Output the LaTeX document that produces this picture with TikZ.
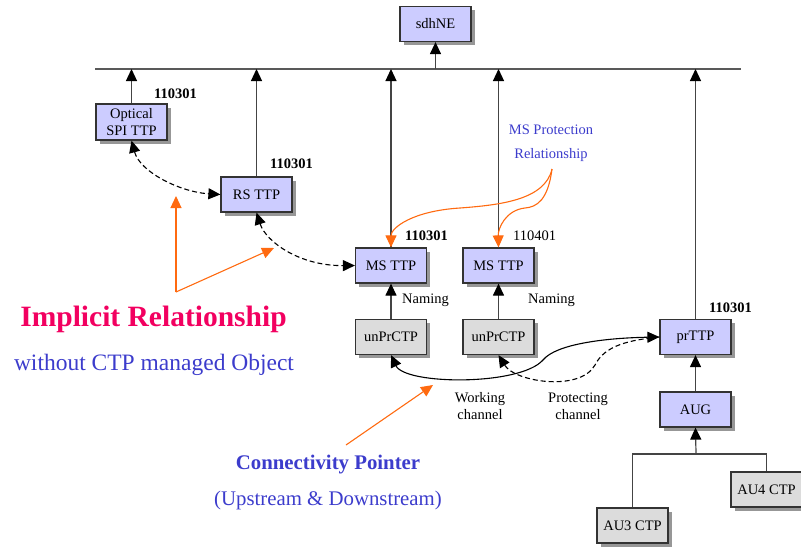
\documentclass[tikz,border=0pt]{standalone}
\usepackage{fontspec}
\setmainfont{Liberation Serif}
\usetikzlibrary{arrows.meta,shadows,calc}
\definecolor{boxfill}{HTML}{CCCCFF}
\definecolor{ctpfill}{HTML}{DCDCDC}
\definecolor{edge}{HTML}{333333}
\definecolor{linegray}{HTML}{444444}
\definecolor{note}{HTML}{3C3CCC}
\definecolor{hot}{HTML}{F20060}
\definecolor{pointer}{HTML}{FF6A10}
\tikzset{
  box/.style={draw=edge, line width=1.2pt, fill=boxfill, minimum width=71pt, minimum height=35pt,
    inner sep=1pt, align=center, font=\fontsize{14.5}{17}\selectfont,
    drop shadow={shadow xshift=3.5pt, shadow yshift=-3.5pt, fill=black!45, opacity=0.9}},
  ctp/.style={box, fill=ctpfill},
  tip/.style={-{Triangle[length=12pt,width=11pt,color=black]}},
  tips/.style={{Triangle[length=12pt,width=11pt,color=black]}-{Triangle[length=12pt,width=11pt,color=black]}},
  arr/.style={tip, draw=linegray, line width=1.2pt},
  link/.style={draw=black, line width=1.1pt},
  dlink/.style={link, dash pattern=on 5pt off 3pt},
  otip/.style={-{Triangle[length=12pt,width=11pt,color=pointer]}},
  orange/.style={draw=pointer, line width=1.1pt, otip},
  idtxt/.style={font=\bfseries\fontsize{14.5}{17}\selectfont, inner sep=0pt},
  lbl/.style={font=\fontsize{14.5}{17}\selectfont, inner sep=0pt, align=center},
}
\begin{document}
\begin{tikzpicture}[x=1pt,y=-1pt]
\useasboundingbox (0,0) rectangle (801,547);

% managed objects
\node[box] (sdh) at (435.5,24) {sdhNE};
\node[box, minimum height=36pt] (opt) at (131.5,122) {Optical\\SPI TTP};
\node[box] (rs) at (256.5,194.5) {RS TTP};
\node[box] (ms1) at (391,265.5) {MS TTP};
\node[box] (ms2) at (498.5,265.5) {MS TTP};
\node[ctp] (u1) at (391,337) {unPrCTP};
\node[ctp] (u2) at (498.5,337) {unPrCTP};
\node[box] (pr) at (695.5,337) {prTTP};
\node[box] (aug) at (695.5,409.5) {AUG};
\node[ctp] (au4) at (766.5,489.5) {AU4 CTP};
\node[ctp] (au3) at (632.5,525.5) {AU3 CTP};

% containment bus under sdhNE
\coordinate (busL) at (95,69);
\coordinate (busR) at (741,69);
\draw[draw=black!65, line width=2pt] (busL) -- (busR);
\draw[arr] (sdh.south |- busL) -- (sdh.south);
\foreach \n in {opt,rs,ms1,ms2,pr}
  \draw[arr] (\n.north) -- (\n.north |- busL);

% object identifiers
\node[idtxt, anchor=west] (id1) at (154,94) {110301};
\node[idtxt, anchor=west] (id2) at (270,164) {110301};
\node[idtxt, anchor=west] (id3) at (405,236) {110301};
\node[lbl, anchor=west] (id4) at (513,236) {110401};
\node[idtxt, anchor=west] (id5) at (709,308) {110301};

% naming
\draw[arr] (u1.north) -- (ms1.south);
\draw[arr] (u2.north) -- (ms2.south);
\node[lbl, anchor=west] (nm1) at (402,300) {Naming};
\node[lbl, anchor=west] (nm2) at (528,300) {Naming};

% AUG tree
\coordinate (br) at (696,454);
\draw[arr] (aug.north) -- (pr.south);
\draw[arr] (br) -- (aug.south);
\draw[draw=linegray, line width=1.2pt] (au3.north) -- (au3.north |- br) -- (au4.north |- br) -- (au4.north);

% implicit relationships
\draw[dlink, tips] (opt.south) .. controls (140,172) and (180,192) .. (rs.west);
\draw[dlink, tips] (rs.south) .. controls (266,242) and (300,266) .. (ms1.west);

% connectivity pointers
\draw[link, tips] (u1.south) .. controls (405,385) and (520,386) .. (543,360)
   .. controls (556,344) and (605,338) .. (pr.west);
\draw[dlink, tip] (pr.west) .. controls (630,340) and (605,345) .. (595,365)
   .. controls (580,392) and (515,382) .. (u2.south);
\node[lbl] (wk) at (480,406) {Working\\channel};
\node[lbl] (pt) at (578,406) {Protecting\\channel};

% MS protection relationship
\node[lbl, text=note] (msp) at (551,130) {MS Protection};
\node[lbl, text=note] (msr) at (551,155) {Relationship};
\coordinate (mpo) at (552,169);
\draw[orange] (mpo) .. controls (545,200) and (500,205) .. (460,208)
   .. controls (412,211) and (391,228) .. (ms1.north);
\draw[orange] (mpo) .. controls (548,200) and (537,207) .. (525,208)
   .. controls (506,210) and (498,228) .. (ms2.north);

% callouts
\coordinate (ic) at (176,292);
\coordinate (ia) at (176,196);
\coordinate (ib) at (274,248);
\draw[orange] (ic) -- (ia);
\draw[orange] (ic) -- (ib);
\node[font=\bfseries\fontsize{29.5}{32}\selectfont, text=hot, inner sep=0pt] (imp) at (153.5,319) {Implicit Relationship};
\node[font=\fontsize{23.5}{26}\selectfont, text=note, inner sep=0pt] (wo) at (154,365) {without CTP managed Object};

\coordinate (cp0) at (346,445);
\coordinate (cp1) at (433,385);
\draw[orange] (cp0) -- (cp1);
\node[font=\bfseries\fontsize{20.8}{23}\selectfont, text=note, inner sep=0pt] (cp) at (328,465) {Connectivity Pointer};
\node[font=\fontsize{20.8}{23}\selectfont, text=note, inner sep=0pt] (ud) at (328,500) {(Upstream \& Downstream)};
\end{tikzpicture}
\end{document}
